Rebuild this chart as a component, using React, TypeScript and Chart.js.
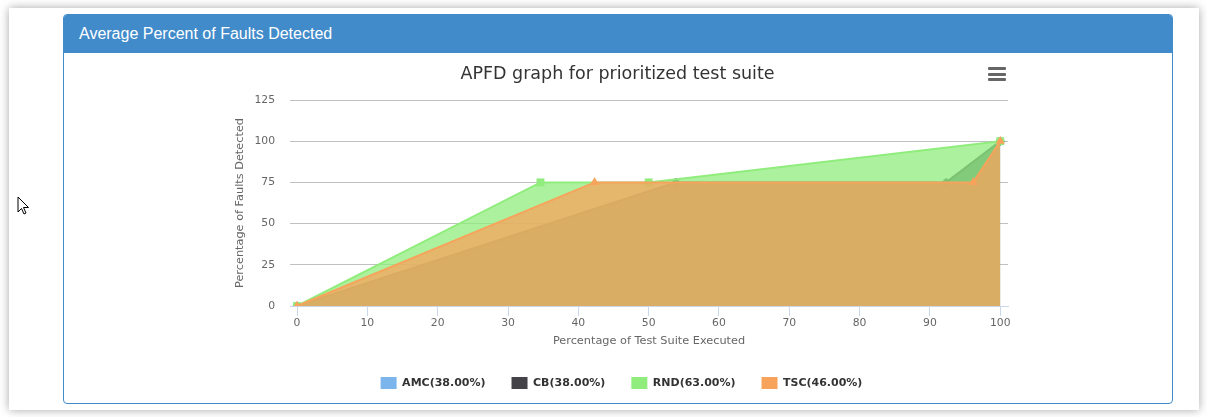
import React, { useEffect, useRef } from 'react';
import { Chart, registerables } from 'chart.js';

Chart.register(...registerables);

const panelTitle = 'Average Percent of Faults Detected';
const chartTitle = 'APFD graph for prioritized test suite';
const xTitle = 'Percentage of Test Suite Executed';
const yTitle = 'Percentage of Faults Detected';

const seriesNames = ['AMC(38.00%)', 'CB(38.00%)', 'RND(63.00%)', 'TSC(46.00%)'];
const seriesColors = ['#7cb5ec', '#434348', '#90ed7d', '#f7a35c'];
const seriesFills = [
  'rgba(124,181,236,0.75)',
  'rgba(67,67,72,0.75)',
  'rgba(144,237,125,0.75)',
  'rgba(247,163,92,0.75)',
];
const pointStyles = ['circle', 'rectRot', 'rect', 'triangle'];
const pointRadii = [4, 4.5, 5.6, 5.3];

const amcX = [0, 53.85, 92.31, 100];
const amcY = [0, 75, 75, 100];
const cbX = [0, 53.85, 92.31, 100];
const cbY = [0, 75, 75, 100];
const rndX = [0, 34.62, 50, 100];
const rndY = [0, 75, 75, 100];
const tscX = [0, 42.31, 96.15, 100];
const tscY = [0, 75, 75, 100];

const xTicks = [0, 10, 20, 30, 40, 50, 60, 70, 80, 90, 100];
const yTicks = [0, 25, 50, 75, 100, 125];

const legendShift = {
  id: 'legendShift',
  afterLayout(chart: any) {
    if (chart.legend) {
      chart.legend.left += 4;
      chart.legend.right += 4;
    }
  },
};

export default function App() {
  const ref = useRef<HTMLCanvasElement>(null);

  useEffect(() => {
    const xs = [amcX, cbX, rndX, tscX];
    const ys = [amcY, cbY, rndY, tscY];
    const datasets = seriesNames.map((name, i) => ({
      label: name,
      data: xs[i].map((x, j) => ({ x, y: ys[i][j] })),
      borderColor: seriesColors[i],
      backgroundColor: seriesFills[i],
      borderWidth: 2,
      fill: 'origin',
      pointStyle: pointStyles[i],
      pointRadius: pointRadii[i],
      pointBackgroundColor: seriesColors[i],
      pointBorderColor: seriesColors[i],
      pointBorderWidth: 0,
      tension: 0,
      order: seriesNames.length - 1 - i,
    }));

    Chart.defaults.font.family = "'DejaVu Sans', Verdana, sans-serif";

    const chart = new Chart(ref.current as HTMLCanvasElement, {
      type: 'line',
      data: { datasets } as any,
      plugins: [legendShift],
      options: {
        animation: false,
        responsive: false,
        events: [],
        layout: { padding: { top: 0, left: 0, right: 0, bottom: 3 } },
        scales: {
          x: {
            type: 'linear',
            min: -1,
            max: 101.1,
            afterBuildTicks: (s: any) => {
              s.ticks = xTicks.map((v) => ({ value: v }));
            },
            afterFit: (s: any) => {
              s.height = 45;
            },
            grid: {
              drawOnChartArea: false,
              drawTicks: true,
              tickLength: 10,
              color: '#ccd6eb',
              lineWidth: 1,
            },
            border: { display: true, color: '#ccd6eb', width: 1 },
            ticks: {
              color: '#666666',
              font: { size: 10.8 },
              padding: 1,
              maxRotation: 0,
              autoSkip: false,
            },
            title: {
              display: true,
              text: xTitle,
              color: '#666666',
              font: { size: 11.3 },
              padding: { top: 0, bottom: 3.2 },
            },
          },
          y: {
            type: 'linear',
            position: 'left',
            min: 0,
            max: 125,
            afterBuildTicks: (s: any) => {
              s.ticks = yTicks.map((v) => ({ value: v }));
            },
            afterFit: (s: any) => {
              s.width = 226;
            },
            grid: {
              color: (c: any) => (c.tick && c.tick.value === 0 ? 'rgba(0,0,0,0)' : '#c0c0c0'),
              drawTicks: false,
              lineWidth: 1,
            },
            border: { display: false },
            ticks: { color: '#666666', font: { size: 10.8 }, padding: 15 },
            title: {
              display: true,
              text: yTitle,
              color: '#666666',
              font: { size: 11.3 },
              padding: { top: 169.2, bottom: 0 },
            },
          },
          yRight: {
            type: 'linear',
            position: 'right',
            display: true,
            afterFit: (s: any) => {
              s.width = 163;
            },
            grid: { display: false },
            border: { display: false },
            ticks: { display: false },
          },
        },
        plugins: {
          title: {
            display: true,
            text: chartTitle,
            color: '#333333',
            font: { size: 17.5, weight: 'normal' },
            padding: { top: 10.5, bottom: 15.5 },
          },
          legend: {
            position: 'bottom',
            labels: {
              boxWidth: 16,
              boxHeight: 12,
              padding: 26,
              color: '#333333',
              font: { size: 11, weight: 'bold' },
              sort: (a: any, b: any) => a.datasetIndex - b.datasetIndex,
              generateLabels: (c: any) =>
                (Chart.defaults.plugins.legend.labels as any).generateLabels(c).map((l: any) => ({
                  ...l,
                  fillStyle: seriesColors[l.datasetIndex],
                  strokeStyle: seriesColors[l.datasetIndex],
                  lineWidth: 0,
                })),
            },
          },
          tooltip: { enabled: false },
        },
      } as any,
    });
    return () => chart.destroy();
  }, []);

  return (
    <div>
      <div
        style={{
          position: 'absolute',
          left: 9,
          top: 8,
          width: 1190,
          height: 402,
          background: '#ffffff',
          boxShadow: '0 0 9px rgba(0,0,0,0.35)',
        }}
      />
      <svg
        style={{ position: 'absolute', left: 17, top: 196 }}
        width={14}
        height={20}
        viewBox="0 0 14 20"
      >
        <polygon
          points="1,1 1,16 4.5,12.5 7,18 9,17 6.5,11.5 11.5,11.5"
          fill="#ffffff"
          stroke="#000000"
          strokeWidth={1}
        />
      </svg>
      <div
        style={{
          position: 'absolute',
          left: 63,
          top: 14,
          width: 1110,
          height: 390,
          boxSizing: 'border-box',
          border: '1px solid #428bca',
          borderRadius: 4,
          background: '#ffffff',
          overflow: 'hidden',
        }}
      >
        <div
          style={{
            height: 38,
            background: '#428bca',
            color: '#ffffff',
            fontFamily: "'Liberation Sans', Arial, sans-serif",
            fontSize: 16,
            lineHeight: '38px',
            paddingLeft: 15,
            boxSizing: 'border-box',
          }}
        >
          {panelTitle}
        </div>
        <div style={{ position: 'relative', width: 1107, height: 349 }}>
          <canvas
            ref={ref}
            width={1107}
            height={349}
            style={{ display: 'block', width: 1107, height: 349 }}
          />
          {[0, 1, 2].map((k) => (
            <div
              key={k}
              style={{
                position: 'absolute',
                left: 924,
                top: 14 + k * 5.5,
                width: 18,
                height: 3,
                background: '#666666',
                borderRadius: 1,
              }}
            />
          ))}
        </div>
      </div>
    </div>
  );
}
